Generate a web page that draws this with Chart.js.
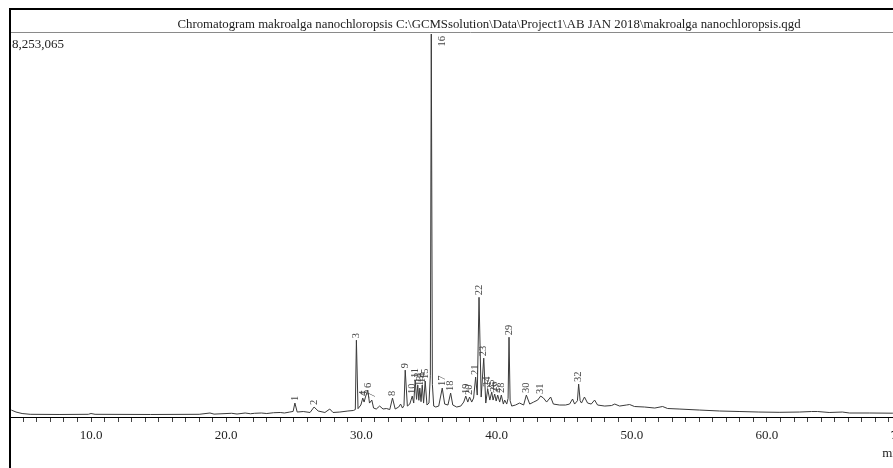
<!DOCTYPE html>
<html><head><meta charset="utf-8">
<script src="https://cdn.jsdelivr.net/npm/chart.js@4.4.0/dist/chart.umd.min.js"></script>
<style>
html,body{margin:0;padding:0;background:#fff;overflow:hidden;}
#wrap{position:relative;width:893px;height:468px;overflow:hidden;background:#fff;}
#c{position:absolute;left:0;top:0;}
</style></head><body>
<div id="wrap"><canvas id="c" width="930" height="468"></canvas></div>
<script>
// Retention time (min)
const times = [4.10,4.45,4.9,5.5,7.7,9.8,10.0,10.3,14.4,18.0,18.8,19.1,20.4,20.8,21.4,21.8,22.1,22.6,23.0,23.5,24.0,24.3,24.7,24.95,25.08,25.25,25.7,26.2,26.5,26.8,27.3,27.66,27.9,28.4,29.0,29.4,29.55,29.63,29.75,29.96,30.1,30.2,30.3,30.47,30.6,30.77,30.9,31.1,31.35,31.6,31.85,32.1,32.3,32.5,32.76,32.9,33.04,33.15,33.24,33.4,33.58,33.76,33.87,33.98,34.08,34.17,34.25,34.32,34.41,34.5,34.6,34.72,34.85,35.0,35.1,35.17,35.25,35.35,35.5,35.72,35.98,36.16,36.4,36.6,36.76,37.05,37.35,37.57,37.72,37.87,38.0,38.16,38.3,38.45,38.57,38.7,38.86,39.05,39.2,39.34,39.5,39.64,39.74,39.86,39.97,40.08,40.23,40.35,40.5,40.6,40.75,40.85,40.92,41.0,41.12,41.4,41.7,42.0,42.2,42.45,42.74,43.04,43.26,43.47,43.7,44.0,44.2,44.66,45.1,45.4,45.62,45.77,45.98,46.07,46.18,46.28,46.5,46.73,47.0,47.25,47.47,48.0,48.5,48.74,49.1,49.6,49.84,50.2,50.95,51.7,52.28,52.65,53.5,55.0,56.5,58.0,59.4,60.9,62.4,63.3,63.75,64.6,65.58,66.1,67.6,69.3,72.0];
// Intensity (counts)
const intensities = [150000,107000,75000,58000,54000,58000,75000,58000,54000,58000,86000,62000,80000,64000,86000,70000,80000,86000,75000,92000,97000,86000,107000,120000,301000,107000,118000,97000,215000,129000,97000,172000,97000,107000,129000,140000,160000,1655000,180000,258000,408000,322000,430000,580000,300000,365000,193000,172000,236000,172000,183000,161000,408000,172000,215000,279000,193000,250000,1010000,236000,279000,451000,301000,795000,380000,688000,360000,623000,330000,688000,300000,774000,258000,301000,900000,8253065,700000,236000,215000,236000,623000,279000,258000,516000,258000,215000,236000,322000,451000,322000,430000,322000,408000,860000,473000,2579000,430000,1268000,301000,602000,365000,537000,365000,494000,344000,473000,322000,473000,279000,365000,279000,400000,1719000,350000,236000,258000,301000,258000,473000,279000,322000,365000,451000,408000,322000,430000,279000,258000,258000,279000,387000,279000,350000,709000,350000,301000,430000,301000,279000,365000,258000,236000,247000,279000,236000,258000,269000,226000,215000,193000,226000,183000,172000,150000,129000,118000,107000,101000,107000,118000,118000,97000,107000,86000,86000,82000,80000];
// Peak numbers
const peakIds = ['1','2','3','4','5','6','7','8','9','10','11','12','13','14','15','16','17','18','19','20','21','22','23','24','25','26','27','28','29','30','31','32'];
const peakTimes = [25.08,26.5,29.63,30.1,30.3,30.47,30.77,32.3,33.24,33.76,33.98,34.17,34.32,34.5,34.72,35.17,35.98,36.6,37.72,38.0,38.45,38.7,39.05,39.34,39.64,39.86,40.08,40.35,40.92,42.2,43.26,46.07];
const peakTops = [301000,215000,1655000,408000,430000,580000,365000,408000,1010000,451000,795000,688000,623000,688000,774000,8253065,623000,516000,451000,430000,860000,2579000,1268000,602000,537000,494000,473000,473000,1719000,473000,451000,709000];
const titleText = 'Chromatogram makroalga nanochloropsis C:\\GCMSsolution\\Data\\Project1\\AB JAN 2018\\makroalga nanochloropsis.qgd';
const maxIntensity = 8253065;
const maxIntensityLabel = '8,253,065';
const xUnit = 'min';

const points = times.map((t, i) => ({x: t, y: intensities[i]}));
const SERIF = '"Liberation Serif", "DejaVu Serif", serif';

const framePlugin = {
  id: 'frame',
  beforeDraw(chart) {
    const ctx = chart.ctx;
    ctx.save();
    ctx.fillStyle = '#fff';
    ctx.fillRect(0, 0, chart.width, chart.height);
    ctx.fillStyle = '#000';
    ctx.fillRect(9, 8, chart.width, 2);
    ctx.fillRect(9, 8, 2, chart.height);
    ctx.strokeStyle = '#8a8a8a';
    ctx.lineWidth = 1;
    ctx.beginPath(); ctx.moveTo(11, 32.5); ctx.lineTo(chart.width, 32.5); ctx.stroke();
    ctx.fillStyle = '#222';
    ctx.font = '12.8px ' + SERIF;
    ctx.textAlign = 'center';
    ctx.textBaseline = 'alphabetic';
    ctx.fillText(titleText, 489, 28);
    ctx.restore();
  },
  afterDatasetsDraw(chart) {
    const ctx = chart.ctx;
    const xs = chart.scales.x, ys = chart.scales.y, area = chart.chartArea;
    ctx.save();
    ctx.fillStyle = '#222';
    ctx.font = '13px ' + SERIF;
    ctx.textAlign = 'left';
    ctx.textBaseline = 'alphabetic';
    ctx.fillText(maxIntensityLabel, 12, 48);
    ctx.fillText(xUnit, xs.getPixelForValue(70) - 20, 457);
    ctx.font = '10.5px ' + SERIF;
    ctx.fillStyle = '#444';
    ctx.textBaseline = 'middle';
    peakIds.forEach((id, i) => {
      let x = xs.getPixelForValue(peakTimes[i]);
      let y = ys.getPixelForValue(peakTops[i]) - 2;
      const w = ctx.measureText(id).width;
      if (y - w < area.top) { y = area.top + w + 2; x += 11; }
      ctx.save();
      ctx.translate(x, y);
      ctx.rotate(-Math.PI / 2);
      ctx.fillText(id, 0, 0);
      ctx.restore();
    });
    ctx.restore();
  }
};

new Chart(document.getElementById('c'), {
  type: 'line',
  data: { datasets: [{ data: points, borderColor: '#3a3a3a', borderWidth: 1, pointRadius: 0, tension: 0, fill: false }] },
  options: {
    responsive: false, animation: false, devicePixelRatio: 1,
    layout: { padding: { left: 11, top: 34, right: 0, bottom: 0 } },
    plugins: { legend: { display: false }, tooltip: { enabled: false }, title: { display: false } },
    scales: {
      x: {
        type: 'linear', min: 4.08, max: 72.06,
        afterFit: s => { s.height = 51; s.paddingLeft = 0; s.paddingRight = 0; },
        grid: { drawOnChartArea: false, drawTicks: true, tickLength: 5, color: '#000', tickColor: '#444' },
        border: { color: '#000', width: 1 },
        ticks: {
          stepSize: 1, autoSkip: false, includeBounds: false, maxRotation: 0, minRotation: 0, padding: 6,
          font: { family: SERIF, size: 13 }, color: '#222',
          callback: v => (Math.abs(v % 10) < 1e-9 ? v.toFixed(1) : '')
        }
      },
      y: { display: false, min: 0, max: maxIntensity }
    }
  },
  plugins: [framePlugin]
});
</script>
</body></html>
